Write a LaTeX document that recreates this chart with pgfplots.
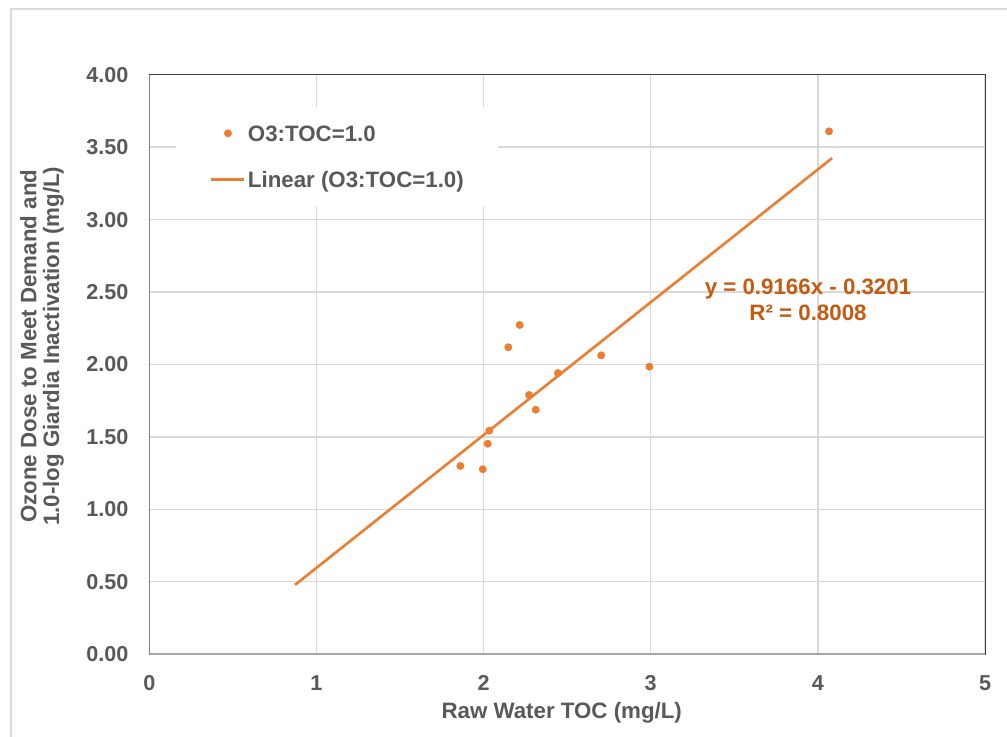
\documentclass[border=0pt]{standalone}
\usepackage{pgfplots}
\pgfplotsset{compat=1.18}
\usepackage{pgfplotstable}
\usepackage{fontspec}
\setmainfont{Liberation Sans}
\definecolor{txt}{HTML}{595959}
\definecolor{org}{HTML}{ED7D31}
\definecolor{eqc}{HTML}{C55A11}
\definecolor{grd}{HTML}{D9D9D9}
\definecolor{axl}{HTML}{A6A6A6}
\definecolor{bord}{HTML}{404040}
\newcommand\f{\fontsize{21.6bp}{22.6bp}\selectfont\bfseries}
\newcommand\g{\fontsize{22.3bp}{22.8bp}\selectfont\bfseries}
\pgfplotsset{
 dotleg/.style={legend image code/.code={\draw[##1, mark repeat=2, mark phase=2] plot coordinates {(0bp,0bp) (16.5bp,0bp) (33bp,0bp)};}},
 lineleg/.style={legend image code/.code={\draw[##1] (0bp,0bp) -- (33bp,0bp);}},
}
\pgfplotstableread{
x y
1.861 1.300
1.995 1.277
2.025 1.453
2.034 1.543
2.148 2.119
2.216 2.273
2.272 1.790
2.312 1.688
2.445 1.941
2.704 2.063
2.992 1.985
4.067 3.609
}\pts
\begin{document}
\begin{tikzpicture}[x=1bp,y=1bp]
\useasboundingbox (0,0) rectangle (1007,737);
\fill[white] (0,0) rectangle (1007,737);
\draw[grd, line width=1.3bp] (11,-5) -- (11,728) -- (1015,728);
\begin{axis}[
 at={(149.3bp,82.7bp)}, anchor=south west, scale only axis,
 width=835.7bp, height=579.6bp,
 xmin=0,xmax=5,ymin=0,ymax=4,
 xtick={0,1,2,3,4,5}, ytick={0,0.5,1,1.5,2,2.5,3,3.5,4},
 major tick length=0pt,
 grid=major, major grid style={grd, line width=1.3bp},
 axis line style={bord, line width=0.8bp},
 /pgf/number format/assume math mode=true,
 every tick label/.append style={inner sep=0pt, font=\f, text=txt},
 xticklabel style={anchor=north, yshift=-20.7bp},
 yticklabel style={anchor=east, xshift=-20.6bp, /pgf/number format/.cd, fixed, fixed zerofill, precision=2},
 xlabel={Raw Water TOC (mg/L)},
 ylabel={Ozone Dose to Meet Demand and\\1.0-log Giardia Inactivation (mg/L)},
 every axis x label/.style={at={(axis description cs:0.4935,-0.0823)}, anchor=north, inner sep=0pt, font=\g, text=txt},
 every axis y label/.style={at={(axis description cs:-0.15472,0.5314)}, rotate=90, anchor=north, align=center, inner sep=0pt, font=\g, text=txt},
 legend style={at={(axis description cs:0.0319,0.9443)}, anchor=north west, draw=none, fill=white,
   inner xsep=34bp, inner ysep=18.25bp, row sep=30.5bp, font=\g, text=txt,
   nodes={inner sep=0pt, text height=15.8bp, text depth=0pt},
   /tikz/every odd column/.append style={column sep=2.2bp}},
 legend cell align=left,
]
\addplot[only marks, mark=*, mark size=3.7bp, color=org, mark options={draw=org, fill=org}, dotleg]
  table[x=x,y=y] {\pts};
\addlegendentry{O3:TOC=1.0}
\addplot[org, line width=2.6bp, no marks, lineleg]
  coordinates {(0.872,0.4792) (4.085,3.4242)};
\addlegendentry{Linear (O3:TOC=1.0)}
\draw[axl, line width=2bp] (rel axis cs:0,1) -- (rel axis cs:0,0) -- (rel axis cs:1,0);
\node[eqc, font=\g, anchor=base, inner sep=0pt] at (axis cs:3.941,2.4845) {y = 0.9166x - 0.3201};
\node[eqc, font=\g, anchor=base, inner sep=0pt] at (axis cs:3.941,2.307) {R² = 0.8008};
\end{axis}
\end{tikzpicture}
\end{document}
